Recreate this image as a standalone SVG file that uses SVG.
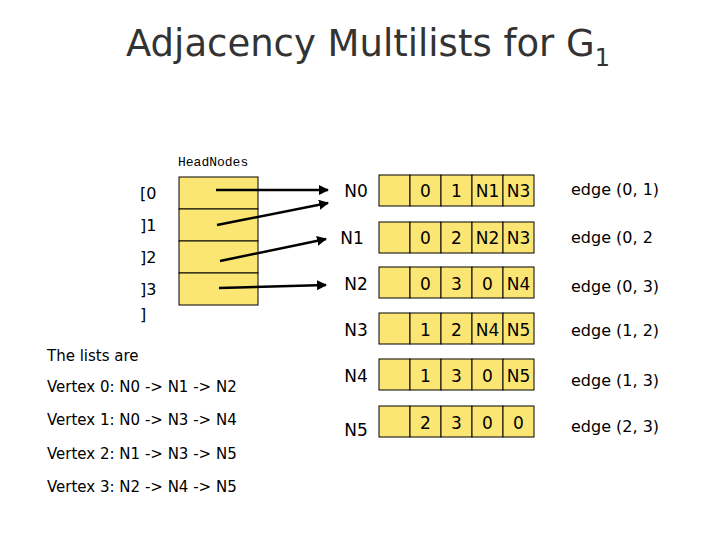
<svg xmlns="http://www.w3.org/2000/svg" width="720" height="540" viewBox="0 0 720 540">
<style>
text{font-family:"DejaVu Sans","Liberation Sans",sans-serif;fill:#000}
.c{fill:#fbe674;stroke:#000;stroke-width:1}
.v{font-size:17px;text-anchor:middle}
.t{font-size:16px}
.e{font-size:16px}
.ln{stroke:#000;stroke-width:2.5;fill:none}
</style>
<defs><marker id="a" viewBox="0 0 10 10" refX="9" refY="5" markerWidth="4" markerHeight="4" orient="auto"><path d="M0,0L10,5L0,10z" fill="#000"/></marker></defs>
<rect width="720" height="540" fill="#fff"/>
<text x="368" y="56" font-size="37" text-anchor="middle" style="font-family:'DejaVu Sans',sans-serif;fill:#333">Adjacency Multilists for G<tspan font-size="24" dy="10">1</tspan></text>
<g id="headnodes">
<text x="178" y="166" font-size="13" style="font-family:'Liberation Mono',monospace">HeadNodes</text>
<rect class="c" x="179" y="177" width="79" height="32"/>
<rect class="c" x="179" y="209" width="79" height="32"/>
<rect class="c" x="179" y="241" width="79" height="32"/>
<rect class="c" x="179" y="273" width="79" height="32"/>
<text class="t" x="140" y="199" font-size="19">[0</text>
<text class="t" x="140" y="231" font-size="19">]1</text>
<text class="t" x="140" y="263" font-size="19">]2</text>
<text class="t" x="140" y="295" font-size="19">]3</text>
<text class="t" x="140" y="320" font-size="19">]</text>
</g>
<g id="connectors">
<line class="ln" x1="216" y1="190" x2="328" y2="190" marker-end="url(#a)"/>
<line class="ln" x1="217" y1="225" x2="328" y2="203" marker-end="url(#a)"/>
<line class="ln" x1="220" y1="261" x2="326" y2="239" marker-end="url(#a)"/>
<line class="ln" x1="219" y1="288" x2="326" y2="285" marker-end="url(#a)"/>
</g>
<g id="N0"><text class="v" x="356" y="197">N0</text>
<rect class="c" x="379" y="175" width="31" height="31"/><rect class="c" x="410" y="175" width="31" height="31"/><rect class="c" x="441" y="175" width="31" height="31"/><rect class="c" x="472" y="175" width="31" height="31"/><rect class="c" x="503" y="175" width="31" height="31"/>
<text class="v" x="425.5" y="197">0</text><text class="v" x="456.5" y="197">1</text><text class="v" x="487.5" y="197">N1</text><text class="v" x="518.5" y="197">N3</text>
<text class="e" x="571" y="195">edge (0, 1)</text></g>
<g id="N1"><text class="v" x="352" y="244">N1</text>
<rect class="c" x="379" y="222" width="31" height="31"/><rect class="c" x="410" y="222" width="31" height="31"/><rect class="c" x="441" y="222" width="31" height="31"/><rect class="c" x="472" y="222" width="31" height="31"/><rect class="c" x="503" y="222" width="31" height="31"/>
<text class="v" x="425.5" y="244">0</text><text class="v" x="456.5" y="244">2</text><text class="v" x="487.5" y="244">N2</text><text class="v" x="518.5" y="244">N3</text>
<text class="e" x="571" y="243">edge (0, 2</text></g>
<g id="N2"><text class="v" x="356" y="290">N2</text>
<rect class="c" x="379" y="267" width="31" height="31"/><rect class="c" x="410" y="267" width="31" height="31"/><rect class="c" x="441" y="267" width="31" height="31"/><rect class="c" x="472" y="267" width="31" height="31"/><rect class="c" x="503" y="267" width="31" height="31"/>
<text class="v" x="425.5" y="290">0</text><text class="v" x="456.5" y="290">3</text><text class="v" x="487.5" y="290">0</text><text class="v" x="518.5" y="290">N4</text>
<text class="e" x="571" y="292">edge (0, 3)</text></g>
<g id="N3"><text class="v" x="356" y="336">N3</text>
<rect class="c" x="379" y="313" width="31" height="31"/><rect class="c" x="410" y="313" width="31" height="31"/><rect class="c" x="441" y="313" width="31" height="31"/><rect class="c" x="472" y="313" width="31" height="31"/><rect class="c" x="503" y="313" width="31" height="31"/>
<text class="v" x="425.5" y="336">1</text><text class="v" x="456.5" y="336">2</text><text class="v" x="487.5" y="336">N4</text><text class="v" x="518.5" y="336">N5</text>
<text class="e" x="571" y="336">edge (1, 2)</text></g>
<g id="N4"><text class="v" x="356" y="382">N4</text>
<rect class="c" x="379" y="359" width="31" height="31"/><rect class="c" x="410" y="359" width="31" height="31"/><rect class="c" x="441" y="359" width="31" height="31"/><rect class="c" x="472" y="359" width="31" height="31"/><rect class="c" x="503" y="359" width="31" height="31"/>
<text class="v" x="425.5" y="382">1</text><text class="v" x="456.5" y="382">3</text><text class="v" x="487.5" y="382">0</text><text class="v" x="518.5" y="382">N5</text>
<text class="e" x="571" y="386">edge (1, 3)</text></g>
<g id="N5"><text class="v" x="356" y="436">N5</text>
<rect class="c" x="379" y="406" width="31" height="31"/><rect class="c" x="410" y="406" width="31" height="31"/><rect class="c" x="441" y="406" width="31" height="31"/><rect class="c" x="472" y="406" width="31" height="31"/><rect class="c" x="503" y="406" width="31" height="31"/>
<text class="v" x="425.5" y="429">2</text><text class="v" x="456.5" y="429">3</text><text class="v" x="487.5" y="429">0</text><text class="v" x="518.5" y="429">0</text>
<text class="e" x="571" y="432">edge (2, 3)</text></g>
<g id="lists" font-size="15">
<text x="47" y="361" font-size="15">The lists are</text>
<text x="47" y="392" font-size="15">Vertex 0: N0 -&gt; N1 -&gt; N2</text>
<text x="47" y="425" font-size="15">Vertex 1: N0 -&gt; N3 -&gt; N4</text>
<text x="47" y="459" font-size="15">Vertex 2: N1 -&gt; N3 -&gt; N5</text>
<text x="47" y="492" font-size="15">Vertex 3: N2 -&gt; N4 -&gt; N5</text>
</g>
</svg>
